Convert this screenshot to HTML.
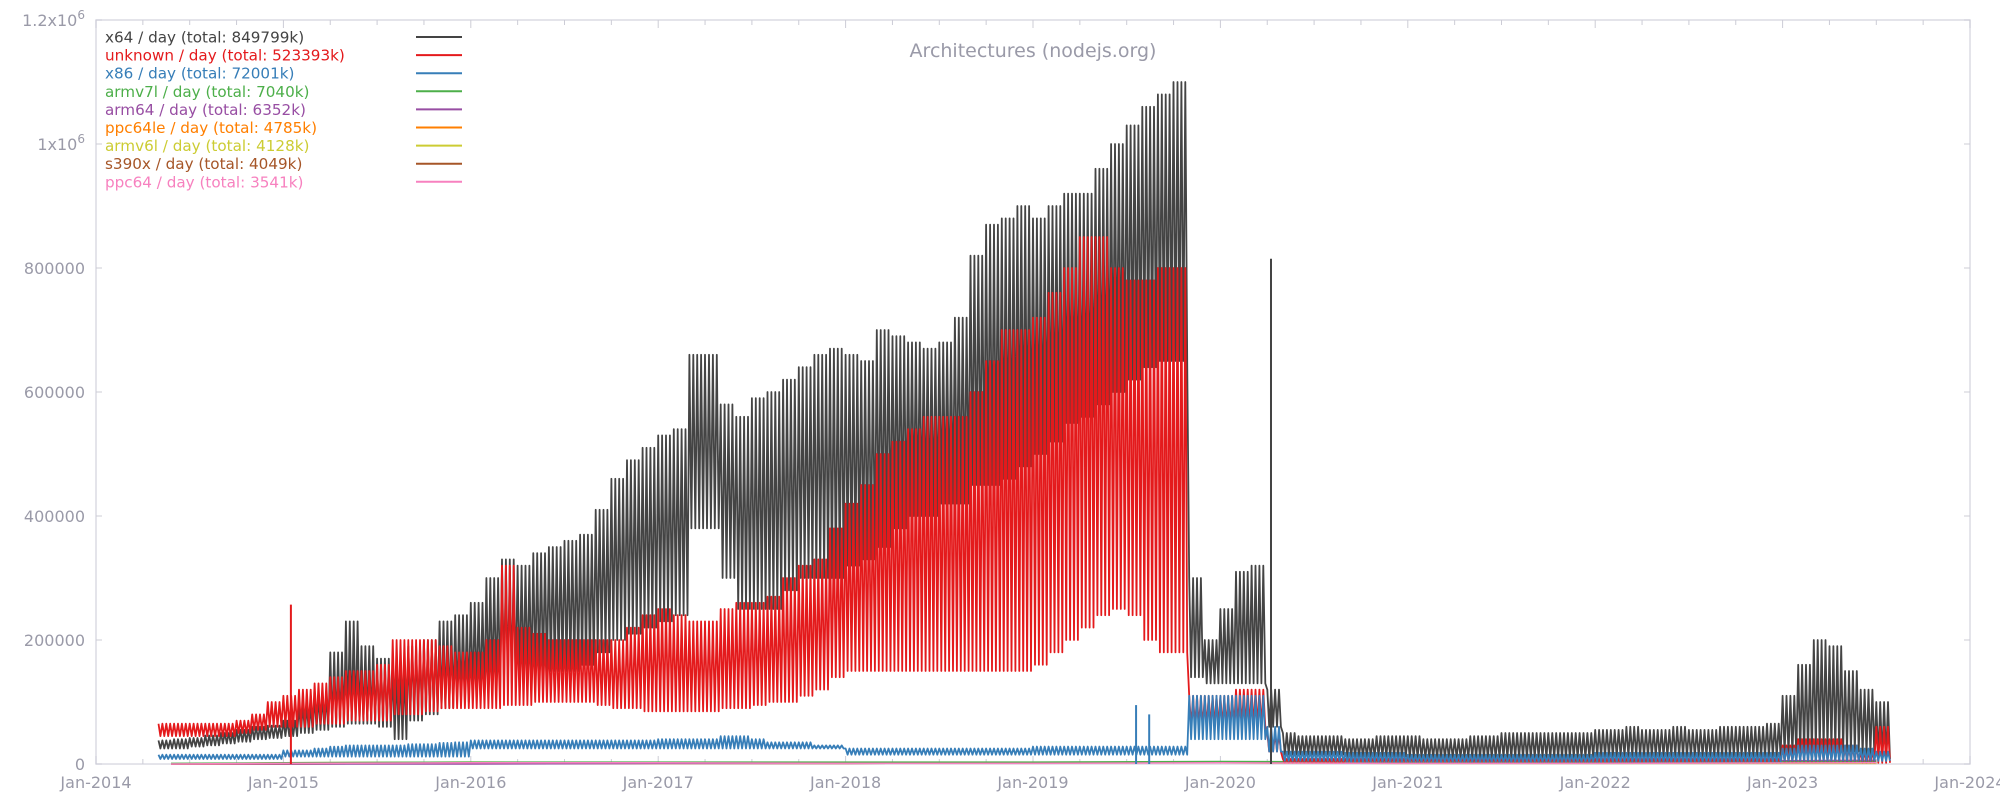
<!DOCTYPE html>
<html><head><meta charset="utf-8"><style>
html,body{margin:0;padding:0;background:#fff;}
svg{display:block;font-family:"DejaVu Sans","Liberation Sans",sans-serif;}
</style></head><body>
<svg id="chart" width="2000" height="800" viewBox="0 0 2000 800">
<rect x="96" y="20" width="1874" height="744" fill="#fff" stroke="#dcdce4" stroke-width="1.5"/>
<g id="ticks"></g>
<g id="series"></g>
<text x="1033" y="57" text-anchor="middle" font-size="19" fill="#9a9aa8">Architectures (nodejs.org)</text>
<g id="legend"></g>
</svg>
<script>
// ---- data (values in thousands / day), monthly from May 2014 to Jul 2023 ----
const startYear = 2014 + 4/12;
const x64High = [38,40,42,46,50,55,60,62,
 70,95,110,180,230,190,170,150,190,200,230,240,
 260,300,330,320,340,350,360,370,410,460,490,510,
 530,540,660,660,580,560,590,600,620,640,660,670,
 660,650,700,690,680,670,680,720,820,870,880,900,
 880,900,920,920,960,1000,1030,1060,1080,1100,300,200,
 250,310,320,120,50,45,45,45,40,40,45,45,
 45,40,40,40,45,45,50,50,50,50,50,50,
 55,55,60,55,55,60,55,55,60,60,60,65,
 110,160,200,190,150,120,100];
const x64Low = [25,25,28,30,33,36,40,42,
 45,50,55,60,65,65,60,40,70,80,90,100,
 110,120,130,130,140,150,150,160,180,200,210,220,
 230,240,380,380,300,250,250,250,280,300,300,300,
 320,330,350,380,400,400,420,420,450,450,460,480,
 500,520,550,560,580,600,620,640,650,650,140,130,
 130,130,130,60,15,15,15,15,12,12,12,12,
 10,10,10,10,10,10,10,10,10,10,10,10,
 12,12,12,12,12,12,12,12,12,12,12,12,
 15,15,20,20,20,15,8];
const unknownHigh = [65,65,65,65,65,70,80,100,
 110,120,130,140,150,150,160,200,200,200,190,180,
 180,200,320,220,210,200,200,200,200,200,220,240,
 250,240,230,230,250,260,260,270,300,320,330,380,
 420,450,500,520,540,560,560,560,600,650,700,700,
 720,760,800,850,850,800,780,780,800,800,110,110,
 110,120,120,50,8,8,8,8,8,8,8,8,
 8,8,8,8,8,8,8,8,8,8,8,8,
 8,8,8,8,8,8,8,8,8,8,8,8,
 30,40,40,40,30,20,60];
const unknownLow = [45,45,45,45,45,50,55,60,
 60,60,65,65,70,70,70,80,80,85,90,90,
 90,90,95,95,100,100,100,100,95,90,90,85,
 85,85,85,85,90,90,95,100,100,110,120,140,
 150,150,150,150,150,150,150,150,150,150,150,150,
 160,180,200,220,240,250,240,200,180,180,60,60,
 60,60,60,20,2,2,2,2,2,2,2,2,
 2,2,2,2,2,2,2,2,2,2,2,2,
 2,2,2,2,2,2,2,2,2,2,2,2,
 3,3,3,3,3,2,2];
const x86High = [15,15,15,15,15,15,15,15,
 22,22,25,28,30,30,30,30,32,32,34,35,
 38,38,38,38,38,38,38,38,38,38,38,38,
 40,40,40,40,45,45,40,35,35,35,30,30,
 25,25,25,25,25,25,25,25,25,25,25,25,
 28,28,28,28,28,28,28,28,28,28,110,110,
 110,110,110,60,20,20,20,20,18,18,18,18,
 15,15,15,15,15,15,15,15,15,15,15,15,
 18,18,18,18,18,18,18,18,18,18,18,18,
 25,30,30,30,30,25,20];
const x86Low = [8,8,8,8,8,8,8,8,
 12,12,12,12,12,12,12,12,12,12,12,12,
 25,25,25,25,25,25,25,25,25,25,25,25,
 25,25,25,25,25,25,25,25,25,25,25,25,
 15,15,15,15,15,15,15,15,15,15,15,15,
 15,15,15,15,15,15,15,15,15,15,40,40,
 40,40,40,20,5,5,5,5,3,3,3,3,
 3,3,3,3,3,3,3,3,3,3,3,3,
 3,3,3,3,3,3,3,3,3,3,3,3,
 5,5,5,5,5,5,5];
// spikes: [decimal year, value k]
const spikeDates = [2020.27, 2015.04, 2019.55, 2019.62];
const spikeValues = [815, 257, 95, 80];
const spikeSeries = ['x64','unknown','x86','x86'];
// minor series, yearly values (k/day)
const minorYears = [2014.4,2015,2016,2017,2018,2019,2020,2021,2022,2023.5];
const armv7lVals = [1,2,3,3,3,3,4,3,3,4];
const arm64Vals = [0,0,0,1,1,2,3,3,4,6];
const ppc64leVals = [0,0,1,1,1,2,2,2,2,3];
const armv6lVals = [0,2,3,2,2,2,2,1,1,1];
const s390xVals = [0,0,1,1,1,2,2,2,2,2];
const ppc64Vals = [0,1,2,2,1,1,2,1,1,2];
const yTicks = [0,200000,400000,600000,800000,1000000,1200000];
const yTickLabels = ['0','200000','400000','600000','800000','1x10<tspan baseline-shift="super" font-size="12">6</tspan>','1.2x10<tspan baseline-shift="super" font-size="12">6</tspan>'];
const xYears = [2014,2015,2016,2017,2018,2019,2020,2021,2022,2023,2024];
const legendLabels = ['x64 / day (total: 849799k)','unknown / day (total: 523393k)','x86 / day (total: 72001k)','armv7l / day (total: 7040k)','arm64 / day (total: 6352k)','ppc64le / day (total: 4785k)','armv6l / day (total: 4128k)','s390x / day (total: 4049k)','ppc64 / day (total: 3541k)'];
const legendColors = ['#444444','#e41a1c','#377eb8','#4daf4a','#984ea3','#ff7f00','#cccc33','#a65628','#f781bf'];

const NS='http://www.w3.org/2000/svg';
const X0=96,X1=1970,Y0=764,Y1=20;
function xs(t){return X0+(t-2014)*(X1-X0)/10;}
function ys(v){return Y0-v/1200000*(Y0-Y1);}
function mk(tag,attrs,parent){const e=document.createElementNS(NS,tag);for(const k in attrs)e.setAttribute(k,attrs[k]);parent.appendChild(e);return e;}

const ticks=document.getElementById('ticks');
yTicks.forEach((v,i)=>{
  const l=mk('line',{x1:X0,x2:X0+6,y1:ys(v),y2:ys(v),stroke:'#ccccd6','stroke-width':1},ticks);
  
  
  const r=mk('line',{x1:X1-6,x2:X1,y1:ys(v),y2:ys(v),stroke:'#ccccd6','stroke-width':1},ticks);
  
  
  const t=mk('text',{x:85,y:ys(v)+6,'text-anchor':'end','font-size':16,fill:'#9a9aa8'},ticks);
  t.innerHTML=yTickLabels[i];
  
  
});
for(let q=0;q<=40;q++){
  const t=2014+q/4, x=xs(t), len=(q%4===0)?8:5;
  const a=mk('line',{x1:x,x2:x,y1:Y1,y2:Y1+len,stroke:'#ccccd6','stroke-width':1},ticks);
  
  
  const b=mk('line',{x1:x,x2:x,y1:Y0-len,y2:Y0,stroke:'#ccccd6','stroke-width':1},ticks);
  
  
}
xYears.forEach(y=>{
  const t=mk('text',{x:xs(y),y:788,'text-anchor':'middle','font-size':16,fill:'#9a9aa8'},ticks);
  t.textContent='Jan-'+y;
  
  
});

const series=document.getElementById('series');
function zig(hi,lo){
  const pts=[];
  for(let m=0;m<hi.length;m++){
    const t0=startYear+m/12;
    for(let k=0;k<8;k++){
      const t=t0+k/96;
      const v=(k%2===0?hi[m]:lo[m])*1000;
      pts.push(xs(t).toFixed(1)+','+ys(v).toFixed(1));
    }
  }
  return pts.join(' ');
}
function minor(vals,color,name){
  const pts=minorYears.map((t,i)=>xs(t).toFixed(1)+','+ys(vals[i]*1000).toFixed(1)).join(' ');
  const p=mk('polyline',{points:pts,fill:'none',stroke:color,'stroke-width':1.5},series);
  
  
}
minor(armv6lVals,'#cccc33','armv6l-line');
minor(s390xVals,'#a65628','s390x-line');
minor(ppc64leVals,'#ff7f00','ppc64le-line');
minor(arm64Vals,'#984ea3','arm64-line');
minor(armv7lVals,'#4daf4a','armv7l-line');
const pX=mk('polyline',{points:zig(x64High,x64Low),fill:'none',stroke:'#444444','stroke-width':1.8,'stroke-linejoin':'round'},series);


const pU=mk('polyline',{points:zig(unknownHigh,unknownLow),fill:'none',stroke:'#e41a1c','stroke-width':1.8,'stroke-linejoin':'round'},series);


const p8=mk('polyline',{points:zig(x86High,x86Low),fill:'none',stroke:'#377eb8','stroke-width':1.8,'stroke-linejoin':'round'},series);


minor(ppc64Vals,'#f781bf','ppc64-line');
const colorOf={x64:'#444444',unknown:'#e41a1c',x86:'#377eb8'};
spikeDates.forEach((t,i)=>{
  const s=mk('line',{x1:xs(t),x2:xs(t),y1:ys(0),y2:ys(spikeValues[i]*1000),stroke:colorOf[spikeSeries[i]],'stroke-width':2},series);
  
  
});

const legend=document.getElementById('legend');
legendLabels.forEach((lab,i)=>{
  const y=37+i*18.1;
  const t=mk('text',{x:105,y:y+5.5,'font-size':15.2,fill:legendColors[i]},legend);
  t.textContent=lab;
  
  
  const l=mk('line',{x1:416,x2:462,y1:y,y2:y,stroke:legendColors[i],'stroke-width':2},legend);
  
  
});
</script>
</body></html>
